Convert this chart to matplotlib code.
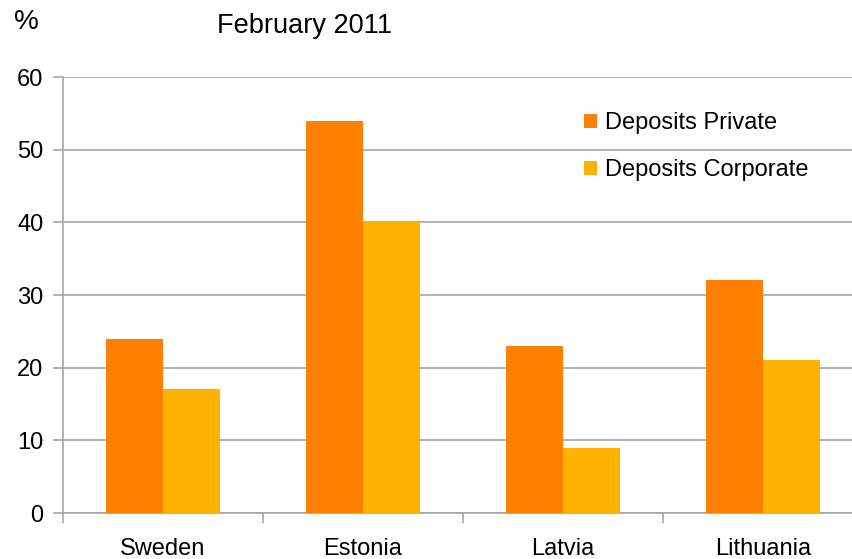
import matplotlib
matplotlib.use("Agg")
import matplotlib.pyplot as plt
import numpy as np

plt.rcParams['font.family'] = ['Liberation Sans', 'DejaVu Sans']

countries = ["Sweden", "Estonia", "Latvia", "Lithuania"]
deposits_private = [24, 54, 23, 32]
deposits_corporate = [17, 40, 9, 21]
y_ticks = [0, 10, 20, 30, 40, 50, 60]

W, H = 852, 559
fig = plt.figure(figsize=(W / 100, H / 100), dpi=100)
ax = fig.add_axes([63 / W, 1 - 513 / H, 800 / W, (513 - 77) / H])

x = np.arange(len(countries))
bw = 0.285
ax.bar(x - bw / 2, deposits_private, bw, color="#FF8000", label="Deposits Private", zorder=3)
ax.bar(x + bw / 2, deposits_corporate, bw, color="#FFB300", label="Deposits Corporate", zorder=3)

ax.set_xlim(-0.5, len(countries) - 0.5)
ax.set_ylim(0, 60)
ax.set_yticks(y_ticks)
ax.yaxis.grid(True, color="#A6A6A6", linewidth=1.2, zorder=0)
ax.set_axisbelow(True)

for s in ["top", "right"]:
    ax.spines[s].set_visible(False)
for s in ["left", "bottom"]:
    ax.spines[s].set_color("#A6A6A6")
    ax.spines[s].set_linewidth(1.2)

# group separators as major ticks, country names as minor ticks
ax.set_xticks(np.arange(len(countries) + 1) - 0.5)
ax.set_xticklabels([])
ax.set_xticks(x, minor=True)
ax.set_xticklabels(countries, minor=True)
ax.tick_params(axis="x", which="major", length=7, color="#A6A6A6", width=1.2, direction="out")
ax.tick_params(axis="x", which="minor", length=0, labelsize=17, pad=18)
ax.tick_params(axis="y", length=7, color="#A6A6A6", width=1.2, labelsize=17, pad=7)

leg = ax.legend(loc="upper left", bbox_to_anchor=((584 - 63) / 800, 1 - (112 - 77) / 436),
                frameon=False, fontsize=17, handlelength=0.55, handleheight=0.55,
                handletextpad=0.35, labelspacing=1.07, borderaxespad=0, borderpad=0)

fig.text(14 / W, 1 - 29 / H, "%", fontsize=20, va="baseline", ha="left")
fig.text(217 / W, 1 - 33 / H, "February 2011", fontsize=19.5, va="baseline", ha="left")

fig.savefig("out.png", dpi=100)
